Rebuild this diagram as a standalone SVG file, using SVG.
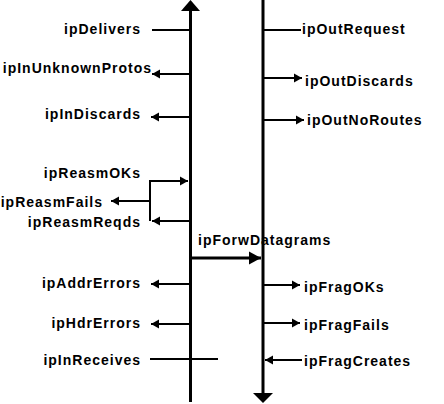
<svg xmlns="http://www.w3.org/2000/svg" width="444" height="404" viewBox="0 0 444 404">
<style>
text{font-family:"Liberation Sans",Arial,sans-serif;font-size:14px;font-weight:bold;letter-spacing:1px;fill:#000}
.l{text-anchor:end}
.c{stroke:#000;stroke-width:2;fill:none}
.axis{stroke:#000;stroke-width:3;fill:none}
</style>
<defs>
<marker id="ah" markerUnits="userSpaceOnUse" markerWidth="8" markerHeight="10" refX="8" refY="5" orient="auto">
<path d="M0,0.5 L8,5 L0,9.5 z" fill="#000"/>
</marker>
<marker id="ahb" markerUnits="userSpaceOnUse" markerWidth="12" markerHeight="14" refX="12" refY="7" orient="auto">
<path d="M0,0.5 L12,7 L0,13.5 z" fill="#000"/>
</marker>
</defs>
<rect width="444" height="404" fill="#fff"/>
<g id="axes">
<line class="axis" x1="190.5" y1="8" x2="190.5" y2="402"/>
<polygon points="181,11 200,11 190.5,0" fill="#000"/>
<line class="axis" x1="263" y1="0" x2="263" y2="395"/>
<polygon points="253,393 273,393 263,403" fill="#000"/>
</g>
<g id="connectors">
<line class="c" x1="152" y1="30" x2="190" y2="30"/>
<line class="c" x1="190" y1="74" x2="152" y2="74" marker-end="url(#ah)"/>
<line class="c" x1="190" y1="117" x2="151" y2="117" marker-end="url(#ah)"/>
<polyline class="c" points="150,221 150,181 188,181" marker-end="url(#ah)"/>
<line class="c" x1="150" y1="201" x2="111" y2="201" marker-end="url(#ah)"/>
<line class="c" x1="190" y1="221" x2="152" y2="221" marker-end="url(#ah)"/>
<line x1="190" y1="258" x2="261" y2="258" stroke="#000" stroke-width="3" marker-end="url(#ahb)"/>
<line class="c" x1="190" y1="284" x2="151" y2="284" marker-end="url(#ah)"/>
<line class="c" x1="190" y1="324" x2="151" y2="324" marker-end="url(#ah)"/>
<line class="c" x1="150" y1="359" x2="218" y2="359"/>
<line class="c" x1="263" y1="30" x2="301" y2="30"/>
<line class="c" x1="263" y1="78" x2="302" y2="78" marker-end="url(#ah)"/>
<line class="c" x1="263" y1="120" x2="304" y2="120" marker-end="url(#ah)"/>
<line class="c" x1="263" y1="285" x2="300" y2="285" marker-end="url(#ah)"/>
<line class="c" x1="263" y1="323" x2="300" y2="323" marker-end="url(#ah)"/>
<line class="c" x1="302" y1="360" x2="265" y2="360" marker-end="url(#ah)"/>
</g>
<g id="ipDelivers"><text class="l" x="141" y="34">ipDelivers</text></g>
<g id="ipInUnknownProtos"><text class="l" x="152" y="73">ipInUnknownProtos</text></g>
<g id="ipInDiscards"><text class="l" x="141" y="119">ipInDiscards</text></g>
<g id="ipReasmOKs"><text class="l" x="141" y="178">ipReasmOKs</text></g>
<g id="ipReasmFails"><text class="l" x="103" y="207">ipReasmFails</text></g>
<g id="ipReasmReqds"><text class="l" x="141" y="227">ipReasmReqds</text></g>
<g id="ipForwDatagrams"><text x="198" y="245">ipForwDatagrams</text></g>
<g id="ipAddrErrors"><text class="l" x="141" y="288">ipAddrErrors</text></g>
<g id="ipHdrErrors"><text class="l" x="141" y="328">ipHdrErrors</text></g>
<g id="ipInReceives"><text class="l" x="141" y="365">ipInReceives</text></g>
<g id="ipOutRequest"><text x="302" y="34">ipOutRequest</text></g>
<g id="ipOutDiscards"><text x="305" y="86">ipOutDiscards</text></g>
<g id="ipOutNoRoutes"><text x="307" y="125">ipOutNoRoutes</text></g>
<g id="ipFragOKs"><text x="304" y="292">ipFragOKs</text></g>
<g id="ipFragFails"><text x="304" y="330">ipFragFails</text></g>
<g id="ipFragCreates"><text x="304" y="366">ipFragCreates</text></g>
</svg>
